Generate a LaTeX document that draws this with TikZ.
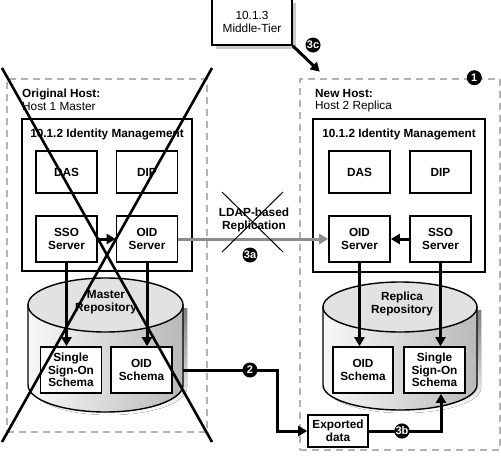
\documentclass[tikz,border=0pt]{standalone}
\usepackage{fontspec}
\setmainfont{Liberation Sans}
\usetikzlibrary{arrows.meta,positioning,calc,shadows}
\definecolor{hostline}{RGB}{178,178,178}
\definecolor{repl}{RGB}{140,140,140}
\definecolor{topgray}{RGB}{226,226,226}
\definecolor{bodyL}{RGB}{248,248,248}
\definecolor{bodyR}{RGB}{185,185,185}
\definecolor{shade}{RGB}{200,200,200}
\newcommand{\dfont}{\fontsize{11.8}{12.6}\selectfont}
\tikzset{
  hostbox/.style={draw=hostline,line width=2.6pt,dash pattern=on 7pt off 5pt,inner sep=0pt},
  frame/.style={draw=black,line width=1.7pt,inner sep=0pt},
  comp/.style={draw=black,line width=1.7pt,fill=white,inner sep=1pt,font=\dfont\bfseries,align=center,
    minimum width=61pt,minimum height=42pt},
  flow/.style={-{Triangle[length=9pt,width=10pt]},line width=3pt},
  badge/.style={circle,fill=black,text=white,inner sep=0pt,minimum size=15pt,
    font=\fontsize{11}{11}\selectfont\bfseries},
  cross/.style={line width=2.6pt},
}
\newcommand{\repo}[5]{% centre x, x radius, top y, bottom y, y radius
  \fill[shade] ({#1-#2+4},{#3+3}) -- ({#1-#2+4},{#4+3})
    arc[start angle=180,end angle=360,x radius=#2pt,y radius=#5pt] -- ({#1+#2+4},{#3+3}) -- cycle;
  \draw[line width=1.4pt,left color=bodyL,right color=bodyR] ({#1-#2},#3) -- ({#1-#2},#4)
    arc[start angle=180,end angle=360,x radius=#2pt,y radius=#5pt] -- ({#1+#2},#3) -- cycle;
  \draw[line width=1.4pt,fill=topgray] (#1,#3) ellipse[x radius=#2pt,y radius=#5pt];}

\begin{document}
\begin{tikzpicture}[x=1pt,y=-1pt,font=\dfont]
\useasboundingbox (0,0) rectangle (501,461);
% hosts
\node[hostbox,minimum width=200pt,minimum height=353pt] (oldH) at (107,255.5) {};
\node[hostbox,minimum width=200pt,minimum height=371pt] (newH) at (400,264.5) {};
\node[anchor=north west,inner sep=0pt,align=left] (oldT) at (22,89) {\textbf{Original Host:}\\Host 1 Master};
\node[anchor=north west,inner sep=0pt,align=left] (newT) at (315,89) {\textbf{New Host:}\\Host 2 Replica};
% middle tier
\node[frame,fill=white,minimum width=80pt,minimum height=46pt,align=center,
  drop shadow={shadow xshift=4pt,shadow yshift=-4pt,fill=shade,opacity=1}] (mid) at (252,22) {10.1.3\\Middle-Tier};
% identity management
\node[frame,minimum width=170pt,minimum height=152pt] (imL) at (107,195) {};
\node[font=\dfont\bfseries,below=7pt of imL.north] {10.1.2 Identity Management};
\node[frame,minimum width=172pt,minimum height=153pt] (imR) at (399,195.5) {};
\node[font=\dfont\bfseries,below=7pt of imR.north] {10.1.2 Identity Management};
\node[comp] (dasL) at (66.5,172) {DAS};
\node[comp] (dipL) at (147,172) {DIP};
\node[comp,minimum height=46pt] (ssoL) at (66.5,239) {SSO\\Server};
\node[comp,minimum height=46pt] (oidL) at (147,239) {OID\\Server};
\node[comp] (dasR) at (359.5,172) {DAS};
\node[comp] (dipR) at (440.5,172) {DIP};
\node[comp,minimum height=46pt] (oidR) at (359.5,239) {OID\\Server};
\node[comp,minimum height=46pt] (ssoR) at (440.5,239) {SSO\\Server};
% repositories
\repo{105.5}{77.5}{305}{385}{27}
\repo{400}{77}{307}{385}{25}
\node[font=\dfont\bfseries,align=center] (mrep) at (106,302) {Master\\Repository};
\node[font=\dfont\bfseries,align=center] (rrep) at (402,304) {Replica\\Repository};
\node[comp,minimum height=46pt] (schSsoL) at (71,370) {Single\\Sign-On\\Schema};
\node[comp,minimum height=46pt] (schOidL) at (141.5,370) {OID\\Schema};
\node[comp,minimum height=46pt,minimum width=60pt] (schOidR) at (363,370) {OID\\Schema};
\node[comp,minimum height=46pt] (schSsoR) at (434.5,370) {Single\\Sign-On\\Schema};
\coordinate (masterE) at (183,370);
\node[comp,minimum width=60pt,minimum height=32pt] (exp) at (338,431) {Exported\\data};
% connectors
\draw[flow] (ssoL) -- (oidL);
\draw[flow] (ssoR) -- (oidR);
\draw[flow] (ssoL.south) -- (ssoL.south |- schSsoL.north);
\draw[flow] (oidL.south) -- (oidL.south |- schOidL.north);
\draw[flow] (oidR.south) -- (oidR.south |- schOidR.north);
\draw[flow] (ssoR.south) -- (ssoR.south |- schSsoR.north);
\draw[flow,repl] (oidL.east) -- (oidR.west);
\draw[flow] (masterE) -| ([xshift=-30pt]exp.west) -- (exp.west);
\draw[flow] (exp.east) -| ([xshift=6.5pt]schSsoR.south);
\draw[flow] (mid.south east) -- ([xshift=21pt,yshift=6pt]newH.north west);
% replication label
\node[font=\dfont\bfseries,align=center] (ldap) at (254,220) {LDAP-based\\Replication};
\draw[line width=1pt] (222,192) -- (283,252) (283,192) -- (222,252);
% step badges
\node[badge] (b1) at ([xshift=-27pt]newH.north east) {1};
\node[badge] (b2) at (250,370) {2};
\node[badge] (b3a) at (250,255) {3a};
\node[badge] (b3b) at (402,431) {3b};
\node[badge] (b3c) at (313,45) {3c};
% retired host
\draw[cross] (2,68) -- (212,442) (212,68) -- (2,442);
\end{tikzpicture}
\end{document}
